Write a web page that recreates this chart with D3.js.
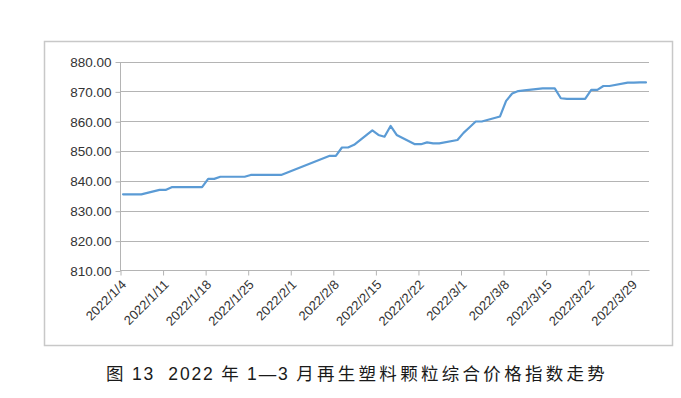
<!DOCTYPE html>
<html>
<head>
<meta charset="utf-8">
<script src="https://cdn.jsdelivr.net/npm/d3@7"></script>
<style>
  html, body { margin: 0; padding: 0; background: #fff; }
  svg { display: block; }
</style>
</head>
<body>
<svg id="chart" width="681" height="398"></svg>
<script>
// ---- data ----
const dates = [
  "2022-01-04","2022-01-05","2022-01-06","2022-01-07",
  "2022-01-10","2022-01-11","2022-01-12","2022-01-13","2022-01-14",
  "2022-01-17","2022-01-18","2022-01-19","2022-01-20","2022-01-21",
  "2022-01-24","2022-01-25","2022-01-26","2022-01-27","2022-01-28","2022-01-29","2022-01-30",
  "2022-02-07","2022-02-08","2022-02-09","2022-02-10","2022-02-11",
  "2022-02-14","2022-02-15","2022-02-16","2022-02-17","2022-02-18",
  "2022-02-21","2022-02-22","2022-02-23","2022-02-24","2022-02-25",
  "2022-02-28","2022-03-01","2022-03-02","2022-03-03","2022-03-04",
  "2022-03-07","2022-03-08","2022-03-09","2022-03-10","2022-03-11",
  "2022-03-14","2022-03-15","2022-03-16","2022-03-17","2022-03-18",
  "2022-03-21","2022-03-22","2022-03-23","2022-03-24","2022-03-25",
  "2022-03-28","2022-03-29","2022-03-30","2022-03-31"
];
const values = [
  835.5, 835.5, 835.5, 835.5,
  837.0, 837.0, 837.9, 837.9, 837.9,
  837.9, 840.7, 840.7, 841.4, 841.4,
  841.4, 842.0, 842.0, 842.0, 842.0, 842.0, 842.0,
  848.4, 848.4, 851.2, 851.2, 852.1,
  856.9, 855.4, 854.8, 858.4, 855.4,
  852.3, 852.3, 852.9, 852.6, 852.6,
  853.7, 856.1, 858.0, 859.9, 859.9,
  861.6, 866.8, 869.3, 870.1, 870.3,
  871.0, 871.0, 871.0, 867.7, 867.5,
  867.5, 870.5, 870.5, 871.8, 871.8,
  872.9, 872.9, 873.0, 873.0
];
const yTicks = [810, 820, 830, 840, 850, 860, 870, 880];
const xTickLabels = ["2022/1/4","2022/1/11","2022/1/18","2022/1/25","2022/2/1","2022/2/8",
  "2022/2/15","2022/2/22","2022/3/1","2022/3/8","2022/3/15","2022/3/22","2022/3/29"];
const captionHead = "图 13  2022 年 1—3 ";
const captionTail = "月再生塑料颗粒综合价格指数走势";

// ---- layout ----
const svg = d3.select("#chart");
const plot = { left: 120, right: 649, top: 61.5, bottom: 270.5 };
const parse = d3.timeParse("%Y-%m-%d");
const parseTick = d3.timeParse("%Y/%m/%d");
const data = dates.map((d, i) => ({ date: parse(d), value: values[i] }));

const x = d3.scaleTime()
  .domain([parse("2022-01-04"), parse("2022-04-01")])
  .range([plot.left, plot.right]);
const y = d3.scaleLinear().domain([810, 880]).range([plot.bottom, plot.top]);
const halfDay = 12 * 3600 * 1000;

// outer border
svg.append("rect")
  .attr("x", 44.5).attr("y", 41.5).attr("width", 628).attr("height", 304)
  .attr("fill", "#fff").attr("stroke", "#c8c8c8").attr("stroke-width", 1.5);

// gridlines
svg.append("g").selectAll("line")
  .data(yTicks.filter(t => t !== 810))
  .join("line")
  .attr("x1", plot.left).attr("x2", plot.right)
  .attr("y1", d => Math.round(y(d)) + 0.5).attr("y2", d => Math.round(y(d)) + 0.5)
  .attr("stroke", "#b4b4b4").attr("stroke-width", 1.2);

// y axis
const yAxis = d3.axisLeft(y).tickValues(yTicks).tickFormat(d3.format(".2f")).tickSize(5).tickPadding(4);
const gy = svg.append("g").attr("transform", `translate(${plot.left + 0.5},0.5)`).call(yAxis);
gy.select(".domain").attr("stroke", "#b4b4b4").attr("d", `M0,${plot.top}V${plot.bottom}`);
gy.selectAll(".tick line").attr("stroke", "#b4b4b4");
gy.selectAll(".tick text")
  .attr("fill", "#333")
  .style("font-family", "'Liberation Sans', Arial, sans-serif")
  .style("font-size", "13.5px");

// x axis
const xTicks = xTickLabels.map(s => parseTick(s));
const xAxis = d3.axisBottom(x).tickValues(xTicks).tickFormat(d3.timeFormat("%Y/%-m/%-d")).tickSize(5).tickPadding(0);
const gx = svg.append("g").attr("transform", `translate(0.5,${plot.bottom})`).call(xAxis);
gx.select(".domain").attr("stroke", "#b4b4b4").attr("d", `M${plot.left},0H${plot.right}`);
gx.selectAll(".tick line").attr("stroke", "#b4b4b4");
gx.selectAll(".tick text")
  .attr("fill", "#333")
  .style("font-family", "'Liberation Sans', Arial, sans-serif")
  .style("font-size", "13px")
  .attr("text-anchor", "end")
  .attr("dy", null)
  .attr("transform", "translate(6,15) rotate(-45)")
  .attr("x", 0).attr("y", 0);

// line
const line = d3.line()
  .x(d => x(new Date(d.date.getTime() + halfDay)))
  .y(d => y(d.value));
svg.append("path")
  .datum(data)
  .attr("d", line)
  .attr("fill", "none")
  .attr("stroke", "#5b9bd5")
  .attr("stroke-width", 2.2)
  .attr("stroke-linejoin", "round")
  .attr("stroke-linecap", "round");

// caption
const cap = svg.append("text")
  .attr("x", 106).attr("y", 380)
  .attr("text-anchor", "start")
  .attr("fill", "#1a1a1a")
  .style("font-family", "'Liberation Sans', 'Noto Sans CJK SC', sans-serif")
  .style("font-size", "17.5px")
  .style("white-space", "pre");
cap.append("tspan").style("letter-spacing", "1.8px").text(captionHead);
cap.append("tspan").style("letter-spacing", "3.3px").text(captionTail);
</script>
</body>
</html>
